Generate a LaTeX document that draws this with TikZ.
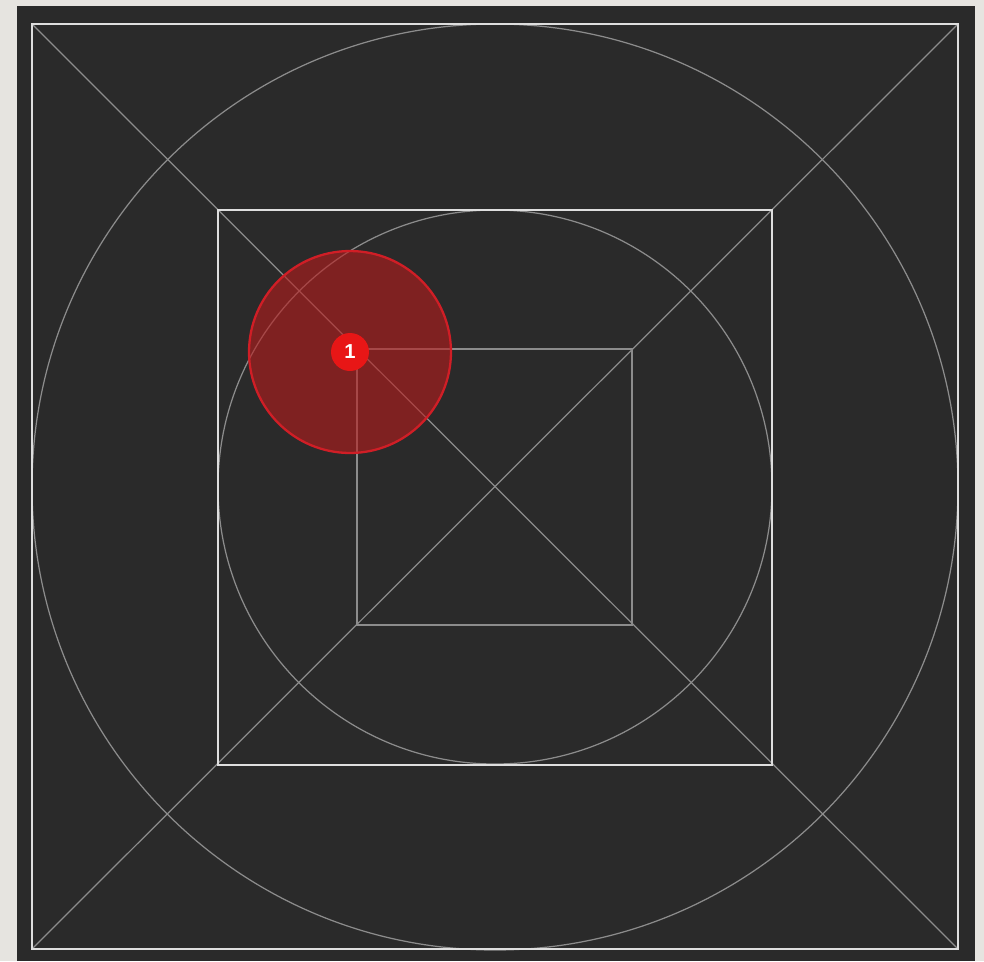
\documentclass[tikz,border=0pt]{standalone}
\usepackage{fontspec}
\setsansfont{Liberation Sans}
\usepackage{tikz}
\usetikzlibrary{positioning,calc}
\definecolor{paper}{HTML}{E6E4E0}
\definecolor{board}{HTML}{2A2A2A}
\definecolor{guide}{HTML}{8C8C8C}
\definecolor{frame}{HTML}{DEDEDE}
\definecolor{zonefill}{HTML}{B81C1C}
\definecolor{zoneline}{HTML}{D01E26}
\definecolor{markred}{HTML}{E81616}
\tikzset{
	guideline/.style={draw=guide, line width=0.7pt},
	frameline/.style={draw=frame, line width=1.2pt},
	zone/.style={circle, draw=zoneline, line width=1.3pt, fill=zonefill, fill opacity=0.6,
		minimum size=4.04cm, inner sep=0pt},
	marker/.style={circle, fill=markred, text=white, inner sep=0pt, minimum size=0.76cm,
		font=\sffamily\bfseries\fontsize{11.5}{12}\selectfont}
}
\begin{document}
\begin{tikzpicture}[x=0.02cm, y=-0.02cm]
			\useasboundingbox (0,0) rectangle (984,961);
			\fill[paper] (0,0) rectangle (984,961);
			\fill[board] (17,6) rectangle (975,961);
			% corners of the squares
			\coordinate (o1) at (32,24);  \coordinate (o2) at (958,24);
			\coordinate (o3) at (958,949); \coordinate (o4) at (32,949);
			\coordinate (m1) at (218,210); \coordinate (m3) at (772,765);
			\coordinate (i1) at (357,349); \coordinate (i3) at (632,625);
			\coordinate (c) at (495,487);
			\coordinate (tp) at (350,352);
			% guides
			\draw[guideline] (o1) -- (o3);
			\draw[guideline] (o2) -- (o4);
			\draw[guideline] (c) circle[radius=463];
			\draw[guideline] (c) circle[radius=277];
			\draw[guideline] (i1) rectangle (i3);
			\draw[frameline] (o1) rectangle (o3);
			\draw[frameline] (m1) rectangle (m3);
			% touch point
			\node[zone] (reach) at (tp) {};
			\node[marker] (pt) at (tp) {1};
		\end{tikzpicture}
\end{document}
